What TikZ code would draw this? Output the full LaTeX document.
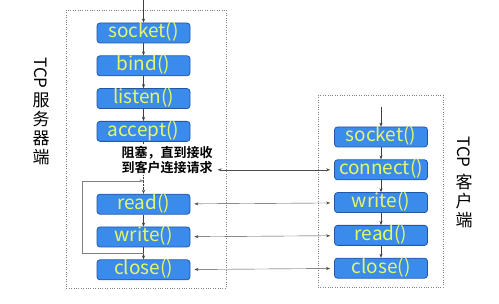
\documentclass[tikz,border=0pt]{standalone}
\usepackage{fontspec}
\setmainfont{Noto Sans CJK SC}[BoldFont={Noto Sans CJK SC Bold}]
\usetikzlibrary{arrows.meta, positioning, calc}
\definecolor{boxblue}{HTML}{3A8BEB}
\definecolor{boxedge}{HTML}{2456A6}
\definecolor{callyellow}{HTML}{E4F76A}

\begin{document}
\begin{tikzpicture}[
        x=1pt, y=-1pt,
        node distance=12pt,
        callbox/.style={rectangle, draw=boxedge, thick, fill=boxblue, text=callyellow, rounded corners=3pt, minimum width=93pt, minimum height=20pt, inner sep=0pt, text height=14pt, text depth=4pt, font=\fontsize{19}{19}\selectfont},
        flow/.style={-{Stealth[length=4pt,width=3pt]}, draw=black!75, thin},
        link/.style={{Stealth[length=4pt,width=3pt]}-{Stealth[length=4pt,width=3pt]}, draw=black!70, thin, shorten <=4pt, shorten >=4pt},
        side/.style={align=center, inner sep=0pt, font=\fontsize{17}{17}\selectfont}
    ]
    \useasboundingbox (0,0) rectangle (499,304);

    % The frames
    \draw[dotted, gray] (66,10) rectangle (226,288);
    \draw[dotted, gray] (318,95) rectangle (443,287);

    % Server calls
    \node (ssocket) [callbox] at (143.5,33) {socket()};
    \node (sbind) [callbox, below=of ssocket] {bind()};
    \node (slisten) [callbox, below=of sbind] {listen()};
    \node (saccept) [callbox, below=of slisten] {accept()};
    \node (sread) [callbox, below=52pt of saccept] {read()};
    \node (swrite) [callbox, below=of sread] {write()};
    \node (sclose) [callbox, below=of swrite] {close()};

    % Client calls
    \node (csocket) [callbox] at (381,137) {socket()};
    \node (cconnect) [callbox, below=of csocket] {connect()};
    \node (cwrite) [callbox, below=of cconnect] {write()};
    \node (cread) [callbox, below=of cwrite] {read()};
    \node (cclose) [callbox, below=of cread] {close()};

    % Server flow
    \coordinate (sstart) at (143.5,0);
    \draw[flow] (sstart) -- (ssocket);
    \draw[flow] (ssocket) -- (sbind);
    \draw[flow] (sbind) -- (slisten);
    \draw[flow] (slisten) -- (saccept);
    \draw[flow, densely dotted] (saccept) -- (sread);
    \draw[flow] (sread) -- (swrite);
    \draw[flow] (swrite) -- (sclose);

    % The loop back
    \coordinate (loopin) at ($(swrite.south)!0.5!(sclose.north)$);
    \coordinate (loopend) at ($(saccept.south)!0.75!(sread.north)$);
    \coordinate (loopleft) at (82,0);
    \draw[flow, draw=gray] (loopin) -- (loopin -| loopleft) |- (loopend);

    \node (wait) [font=\bfseries\fontsize{13}{15}\selectfont, align=center, fill=white, inner sep=1pt] at (167,160) {阻塞，直到接收\\到客户连接请求};

    % Client flow
    \coordinate (cstart) at (381,107);
    \draw[flow] (cstart) -- (csocket);
    \draw[flow] (csocket) -- (cconnect);
    \draw[flow] (cconnect) -- (cwrite);
    \draw[flow] (cwrite) -- (cread);
    \draw[flow] (cread) -- (cclose);

    % Between the two ends
    \draw[link] (cconnect.west) -- (cconnect.west -| wait.east);
    \draw[link] (sread) -- (cwrite);
    \draw[link] (swrite) -- (cread);
    \draw[link] (sclose) -- (cclose);

    % Side labels
    \node (stcp) [side, rotate=-90] at (41,73) {TCP};
    \node (sname) [side] at (41,129) {服\\[2pt]务\\[2pt]器\\[2pt]端};
    \node (ctcp) [side, rotate=-90] at (464,152) {TCP};
    \node (cname) [side] at (464,201) {客\\[2pt]户\\[2pt]端};

\end{tikzpicture}
\end{document}
